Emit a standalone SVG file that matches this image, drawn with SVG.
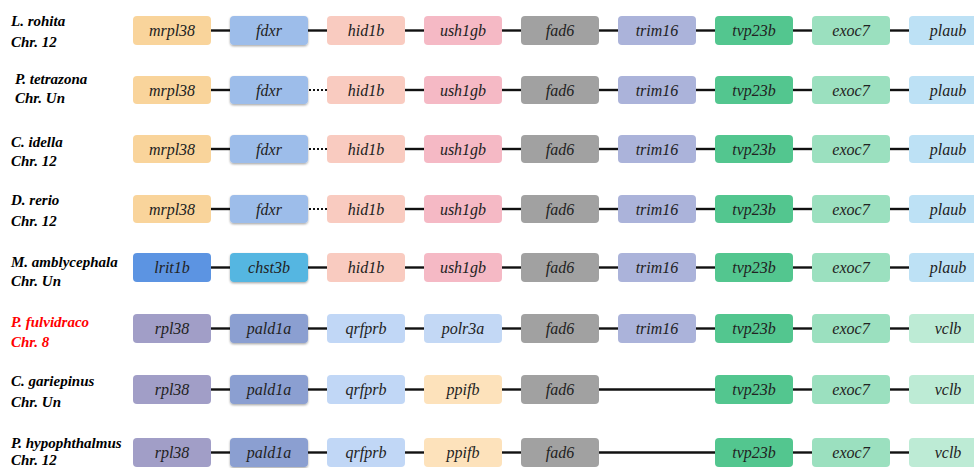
<svg xmlns="http://www.w3.org/2000/svg" width="974" height="468" viewBox="0 0 974 468">
<defs>
<filter id="sh" x="-10%" y="-20%" width="120%" height="150%">
<feDropShadow dx="0" dy="1.2" stdDeviation="0.8" flood-color="#000" flood-opacity="0.35"/>
</filter>
</defs>
<rect width="974" height="468" fill="#fff"/>
<text x="11" y="26" font-family="Liberation Serif" font-size="15" font-style="italic" font-weight="bold">L. rohita</text>
<text x="11" y="47" font-family="Liberation Serif" font-size="15" font-style="italic" font-weight="bold">Chr. 12</text>
<text x="15" y="84" font-family="Liberation Serif" font-size="15" font-style="italic" font-weight="bold">P. tetrazona</text>
<text x="15" y="103" font-family="Liberation Serif" font-size="15" font-style="italic" font-weight="bold">Chr. Un</text>
<text x="11" y="147" font-family="Liberation Serif" font-size="15" font-style="italic" font-weight="bold">C. idella</text>
<text x="11" y="166" font-family="Liberation Serif" font-size="15" font-style="italic" font-weight="bold">Chr. 12</text>
<text x="11" y="205" font-family="Liberation Serif" font-size="15" font-style="italic" font-weight="bold">D. rerio</text>
<text x="11" y="226" font-family="Liberation Serif" font-size="15" font-style="italic" font-weight="bold">Chr. 12</text>
<text x="11" y="267" font-family="Liberation Serif" font-size="15" font-style="italic" font-weight="bold">M. amblycephala</text>
<text x="11" y="286" font-family="Liberation Serif" font-size="15" font-style="italic" font-weight="bold">Chr. Un</text>
<text x="11" y="327" font-family="Liberation Serif" font-size="15" font-style="italic" font-weight="bold" fill="#f00">P.  fulvidraco</text>
<text x="11" y="347" font-family="Liberation Serif" font-size="15" font-style="italic" font-weight="bold" fill="#f00">Chr. 8</text>
<text x="11" y="386" font-family="Liberation Serif" font-size="15" font-style="italic" font-weight="bold">C. gariepinus</text>
<text x="11" y="407" font-family="Liberation Serif" font-size="15" font-style="italic" font-weight="bold">Chr. Un</text>
<text x="11" y="448" font-family="Liberation Serif" font-size="15" font-style="italic" font-weight="bold">P. hypophthalmus</text>
<text x="11" y="465" font-family="Liberation Serif" font-size="15" font-style="italic" font-weight="bold">Chr. 12</text>

<g id="connectors" stroke="#111" stroke-width="2.4">
<line x1="211" y1="30.5" x2="230" y2="30.5"/><line x1="308" y1="30.5" x2="327" y2="30.5"/><line x1="405" y1="30.5" x2="424" y2="30.5"/><line x1="502" y1="30.5" x2="521" y2="30.5"/><line x1="599" y1="30.5" x2="618" y2="30.5"/><line x1="696" y1="30.5" x2="715" y2="30.5"/><line x1="793" y1="30.5" x2="812" y2="30.5"/><line x1="890" y1="30.5" x2="909" y2="30.5"/>
<line x1="211" y1="90" x2="230" y2="90"/><line stroke-dasharray="2 2" stroke-width="2" x1="309" y1="90" x2="327" y2="90"/><line x1="405" y1="90" x2="424" y2="90"/><line x1="502" y1="90" x2="521" y2="90"/><line x1="599" y1="90" x2="618" y2="90"/><line x1="696" y1="90" x2="715" y2="90"/><line x1="793" y1="90" x2="812" y2="90"/><line x1="890" y1="90" x2="909" y2="90"/>
<line x1="211" y1="149" x2="230" y2="149"/><line stroke-dasharray="2 2" stroke-width="2" x1="309" y1="149" x2="327" y2="149"/><line x1="405" y1="149" x2="424" y2="149"/><line x1="502" y1="149" x2="521" y2="149"/><line x1="599" y1="149" x2="618" y2="149"/><line x1="696" y1="149" x2="715" y2="149"/><line x1="793" y1="149" x2="812" y2="149"/><line x1="890" y1="149" x2="909" y2="149"/>
<line x1="211" y1="209" x2="230" y2="209"/><line stroke-dasharray="2 2" stroke-width="2" x1="309" y1="209" x2="327" y2="209"/><line x1="405" y1="209" x2="424" y2="209"/><line x1="502" y1="209" x2="521" y2="209"/><line x1="599" y1="209" x2="618" y2="209"/><line x1="696" y1="209" x2="715" y2="209"/><line x1="793" y1="209" x2="812" y2="209"/><line x1="890" y1="209" x2="909" y2="209"/>
<line x1="211" y1="267.5" x2="230" y2="267.5"/><line x1="308" y1="267.5" x2="327" y2="267.5"/><line x1="405" y1="267.5" x2="424" y2="267.5"/><line x1="502" y1="267.5" x2="521" y2="267.5"/><line x1="599" y1="267.5" x2="618" y2="267.5"/><line x1="696" y1="267.5" x2="715" y2="267.5"/><line x1="793" y1="267.5" x2="812" y2="267.5"/><line x1="890" y1="267.5" x2="909" y2="267.5"/>
<line x1="211" y1="328.5" x2="230" y2="328.5"/><line x1="308" y1="328.5" x2="327" y2="328.5"/><line x1="405" y1="328.5" x2="424" y2="328.5"/><line x1="502" y1="328.5" x2="521" y2="328.5"/><line x1="599" y1="328.5" x2="618" y2="328.5"/><line x1="696" y1="328.5" x2="715" y2="328.5"/><line x1="793" y1="328.5" x2="812" y2="328.5"/><line x1="890" y1="328.5" x2="909" y2="328.5"/>
<line x1="211" y1="389.5" x2="230" y2="389.5"/><line x1="308" y1="389.5" x2="327" y2="389.5"/><line x1="405" y1="389.5" x2="424" y2="389.5"/><line x1="502" y1="389.5" x2="521" y2="389.5"/><line x1="599" y1="389.5" x2="715" y2="389.5"/><line x1="793" y1="389.5" x2="812" y2="389.5"/><line x1="890" y1="389.5" x2="909" y2="389.5"/>
<line x1="211" y1="452.5" x2="230" y2="452.5"/><line x1="308" y1="452.5" x2="327" y2="452.5"/><line x1="405" y1="452.5" x2="424" y2="452.5"/><line x1="502" y1="452.5" x2="521" y2="452.5"/><line x1="599" y1="452.5" x2="715" y2="452.5"/><line x1="793" y1="452.5" x2="812" y2="452.5"/><line x1="890" y1="452.5" x2="909" y2="452.5"/>
</g>

<g id="row1" text-anchor="middle" font-family="Liberation Serif" font-style="italic" font-size="16" fill="#222">
<rect fill="#f9d49b" rx="4" x="133" y="16" width="78" height="29"/><text x="172" y="36">mrpl38</text>
<rect fill="#9dbdea" filter="url(#sh)" rx="4" x="230" y="16" width="78" height="29"/><text x="269" y="36">fdxr</text>
<rect fill="#f9cbc0" rx="4" x="327" y="16" width="78" height="29"/><text x="366" y="36">hid1b</text>
<rect fill="#f5b9c5" rx="4" x="424" y="16" width="78" height="29"/><text x="463" y="36">ush1gb</text>
<rect fill="#a1a1a1" rx="4" x="521" y="16" width="78" height="29"/><text x="560" y="36">fad6</text>
<rect fill="#abb3da" rx="4" x="618" y="16" width="78" height="29"/><text x="657" y="36">trim16</text>
<rect fill="#53c68f" rx="4" x="715" y="16" width="78" height="29"/><text x="754" y="36">tvp23b</text>
<rect fill="#9be0bf" rx="4" x="812" y="16" width="78" height="29"/><text x="851" y="36">exoc7</text>
<rect fill="#bde1f5" rx="4" x="909" y="16" width="78" height="29"/><text x="948" y="36">plaub</text>
</g>
<g id="row2" text-anchor="middle" font-family="Liberation Serif" font-style="italic" font-size="16" fill="#222">
<rect fill="#f9d49b" rx="4" x="133" y="76" width="78" height="28"/><text x="172" y="95.5">mrpl38</text>
<rect fill="#9dbdea" filter="url(#sh)" rx="4" x="230" y="76" width="78" height="28"/><text x="269" y="95.5">fdxr</text>
<rect fill="#f9cbc0" rx="4" x="327" y="76" width="78" height="28"/><text x="366" y="95.5">hid1b</text>
<rect fill="#f5b9c5" rx="4" x="424" y="76" width="78" height="28"/><text x="463" y="95.5">ush1gb</text>
<rect fill="#a1a1a1" rx="4" x="521" y="76" width="78" height="28"/><text x="560" y="95.5">fad6</text>
<rect fill="#abb3da" rx="4" x="618" y="76" width="78" height="28"/><text x="657" y="95.5">trim16</text>
<rect fill="#53c68f" rx="4" x="715" y="76" width="78" height="28"/><text x="754" y="95.5">tvp23b</text>
<rect fill="#9be0bf" rx="4" x="812" y="76" width="78" height="28"/><text x="851" y="95.5">exoc7</text>
<rect fill="#bde1f5" rx="4" x="909" y="76" width="78" height="28"/><text x="948" y="95.5">plaub</text>
</g>
<g id="row3" text-anchor="middle" font-family="Liberation Serif" font-style="italic" font-size="16" fill="#222">
<rect fill="#f9d49b" rx="4" x="133" y="135" width="78" height="28"/><text x="172" y="154.5">mrpl38</text>
<rect fill="#9dbdea" filter="url(#sh)" rx="4" x="230" y="135" width="78" height="28"/><text x="269" y="154.5">fdxr</text>
<rect fill="#f9cbc0" rx="4" x="327" y="135" width="78" height="28"/><text x="366" y="154.5">hid1b</text>
<rect fill="#f5b9c5" rx="4" x="424" y="135" width="78" height="28"/><text x="463" y="154.5">ush1gb</text>
<rect fill="#a1a1a1" rx="4" x="521" y="135" width="78" height="28"/><text x="560" y="154.5">fad6</text>
<rect fill="#abb3da" rx="4" x="618" y="135" width="78" height="28"/><text x="657" y="154.5">trim16</text>
<rect fill="#53c68f" rx="4" x="715" y="135" width="78" height="28"/><text x="754" y="154.5">tvp23b</text>
<rect fill="#9be0bf" rx="4" x="812" y="135" width="78" height="28"/><text x="851" y="154.5">exoc7</text>
<rect fill="#bde1f5" rx="4" x="909" y="135" width="78" height="28"/><text x="948" y="154.5">plaub</text>
</g>
<g id="row4" text-anchor="middle" font-family="Liberation Serif" font-style="italic" font-size="16" fill="#222">
<rect fill="#f9d49b" rx="4" x="133" y="195" width="78" height="28"/><text x="172" y="214.5">mrpl38</text>
<rect fill="#9dbdea" filter="url(#sh)" rx="4" x="230" y="195" width="78" height="28"/><text x="269" y="214.5">fdxr</text>
<rect fill="#f9cbc0" rx="4" x="327" y="195" width="78" height="28"/><text x="366" y="214.5">hid1b</text>
<rect fill="#f5b9c5" rx="4" x="424" y="195" width="78" height="28"/><text x="463" y="214.5">ush1gb</text>
<rect fill="#a1a1a1" rx="4" x="521" y="195" width="78" height="28"/><text x="560" y="214.5">fad6</text>
<rect fill="#abb3da" rx="4" x="618" y="195" width="78" height="28"/><text x="657" y="214.5">trim16</text>
<rect fill="#53c68f" rx="4" x="715" y="195" width="78" height="28"/><text x="754" y="214.5">tvp23b</text>
<rect fill="#9be0bf" rx="4" x="812" y="195" width="78" height="28"/><text x="851" y="214.5">exoc7</text>
<rect fill="#bde1f5" rx="4" x="909" y="195" width="78" height="28"/><text x="948" y="214.5">plaub</text>
</g>
<g id="row5" text-anchor="middle" font-family="Liberation Serif" font-style="italic" font-size="16" fill="#222">
<rect fill="#5c94e2" rx="4" x="133" y="253" width="78" height="29"/><text x="172" y="273">lrit1b</text>
<rect fill="#55b6e1" filter="url(#sh)" rx="4" x="230" y="253" width="78" height="29"/><text x="269" y="273">chst3b</text>
<rect fill="#f9cbc0" rx="4" x="327" y="253" width="78" height="29"/><text x="366" y="273">hid1b</text>
<rect fill="#f5b9c5" rx="4" x="424" y="253" width="78" height="29"/><text x="463" y="273">ush1gb</text>
<rect fill="#a1a1a1" rx="4" x="521" y="253" width="78" height="29"/><text x="560" y="273">fad6</text>
<rect fill="#abb3da" rx="4" x="618" y="253" width="78" height="29"/><text x="657" y="273">trim16</text>
<rect fill="#53c68f" rx="4" x="715" y="253" width="78" height="29"/><text x="754" y="273">tvp23b</text>
<rect fill="#9be0bf" rx="4" x="812" y="253" width="78" height="29"/><text x="851" y="273">exoc7</text>
<rect fill="#bde1f5" rx="4" x="909" y="253" width="78" height="29"/><text x="948" y="273">plaub</text>
</g>
<g id="row6" text-anchor="middle" font-family="Liberation Serif" font-style="italic" font-size="16" fill="#222">
<rect fill="#a19ec7" rx="4" x="133" y="314" width="78" height="29"/><text x="172" y="334">rpl38</text>
<rect fill="#8b9fd1" filter="url(#sh)" rx="4" x="230" y="314" width="78" height="29"/><text x="269" y="334">pald1a</text>
<rect fill="#c1d7f6" rx="4" x="327" y="314" width="78" height="29"/><text x="366" y="334">qrfprb</text>
<rect fill="#c3d8f5" rx="4" x="424" y="314" width="78" height="29"/><text x="463" y="334">polr3a</text>
<rect fill="#a1a1a1" rx="4" x="521" y="314" width="78" height="29"/><text x="560" y="334">fad6</text>
<rect fill="#abb3da" rx="4" x="618" y="314" width="78" height="29"/><text x="657" y="334">trim16</text>
<rect fill="#53c68f" rx="4" x="715" y="314" width="78" height="29"/><text x="754" y="334">tvp23b</text>
<rect fill="#9be0bf" rx="4" x="812" y="314" width="78" height="29"/><text x="851" y="334">exoc7</text>
<rect fill="#bdebd5" rx="4" x="909" y="314" width="78" height="29"/><text x="948" y="334">vclb</text>
</g>
<g id="row7" text-anchor="middle" font-family="Liberation Serif" font-style="italic" font-size="16" fill="#222">
<rect fill="#a19ec7" rx="4" x="133" y="375" width="78" height="29"/><text x="172" y="395">rpl38</text>
<rect fill="#8b9fd1" filter="url(#sh)" rx="4" x="230" y="375" width="78" height="29"/><text x="269" y="395">pald1a</text>
<rect fill="#c1d7f6" rx="4" x="327" y="375" width="78" height="29"/><text x="366" y="395">qrfprb</text>
<rect fill="#fde2bb" rx="4" x="424" y="375" width="78" height="29"/><text x="463" y="395">ppifb</text>
<rect fill="#a1a1a1" rx="4" x="521" y="375" width="78" height="29"/><text x="560" y="395">fad6</text>
<rect fill="#53c68f" rx="4" x="715" y="375" width="78" height="29"/><text x="754" y="395">tvp23b</text>
<rect fill="#9be0bf" rx="4" x="812" y="375" width="78" height="29"/><text x="851" y="395">exoc7</text>
<rect fill="#bdebd5" rx="4" x="909" y="375" width="78" height="29"/><text x="948" y="395">vclb</text>
</g>
<g id="row8" text-anchor="middle" font-family="Liberation Serif" font-style="italic" font-size="16" fill="#222">
<rect fill="#a19ec7" rx="4" x="133" y="438" width="78" height="29"/><text x="172" y="458">rpl38</text>
<rect fill="#8b9fd1" filter="url(#sh)" rx="4" x="230" y="438" width="78" height="29"/><text x="269" y="458">pald1a</text>
<rect fill="#c1d7f6" rx="4" x="327" y="438" width="78" height="29"/><text x="366" y="458">qrfprb</text>
<rect fill="#fde2bb" rx="4" x="424" y="438" width="78" height="29"/><text x="463" y="458">ppifb</text>
<rect fill="#a1a1a1" rx="4" x="521" y="438" width="78" height="29"/><text x="560" y="458">fad6</text>
<rect fill="#53c68f" rx="4" x="715" y="438" width="78" height="29"/><text x="754" y="458">tvp23b</text>
<rect fill="#9be0bf" rx="4" x="812" y="438" width="78" height="29"/><text x="851" y="458">exoc7</text>
<rect fill="#bdebd5" rx="4" x="909" y="438" width="78" height="29"/><text x="948" y="458">vclb</text>
</g>
</svg>
